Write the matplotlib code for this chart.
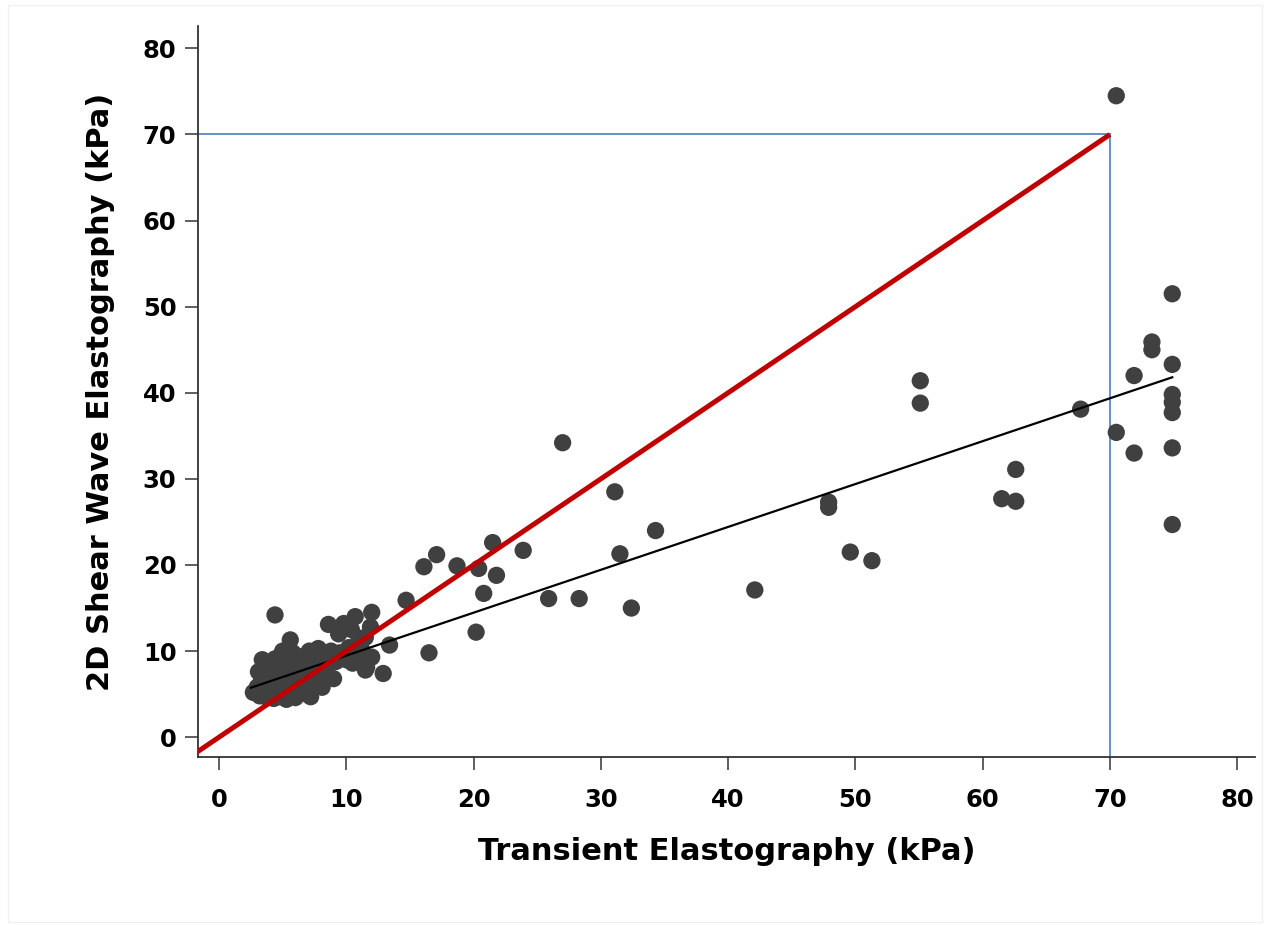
import matplotlib
matplotlib.use("Agg")
import matplotlib.pyplot as plt
from matplotlib.patches import Rectangle

# Transient elastography (x, kPa) vs 2D shear wave elastography (y, kPa)
te_kpa = [
    # dense low cluster
    2.7, 3.0, 3.2, 3.3, 3.5, 3.6, 3.7, 3.8, 3.9, 4.0, 4.1, 4.2, 4.3, 4.4, 4.5,
    4.6, 4.7, 4.8, 4.9, 5.0, 5.1, 5.2, 5.3, 5.4, 5.5, 5.6, 5.7, 5.8, 5.9, 6.0,
    6.2, 6.3, 6.5, 6.6, 6.8, 7.0, 7.1, 7.2, 7.3, 7.5, 7.6, 7.8, 8.0, 8.1, 8.3,
    8.5, 8.6, 8.8, 9.0, 9.2, 9.4, 9.5, 9.8, 10.0, 10.2, 10.4, 10.7, 10.8, 11.0,
    11.2, 11.5, 11.5, 11.6, 11.9, 12.0, 12.0, 12.9, 13.4, 4.4, 3.4, 4.0, 5.0,
    6.0, 6.9, 3.1, 9.9, 10.5, 3.6, 4.3, 5.3,
    # scattered mid range
    14.7, 16.5, 16.1, 17.1, 18.7, 20.4, 20.2, 20.8, 21.5, 21.8, 23.9, 25.9,
    27.0, 28.3, 31.1, 31.5, 32.4, 34.3, 42.1, 47.9, 47.9, 49.6, 51.3, 55.1,
    55.1, 61.5, 62.6, 62.6, 67.7,
    # upper range
    70.5, 70.5, 71.9, 71.9, 73.3, 73.3, 74.9, 74.9, 74.9, 74.9, 74.9, 74.9,
    74.9,
]
swe_kpa = [
    5.2, 5.8, 4.8, 6.4, 7.0, 5.5, 8.0, 4.6, 6.2, 7.5, 8.5, 5.0, 6.8, 9.1, 5.8,
    7.9, 4.7, 6.4, 8.8, 5.3, 7.2, 9.5, 6.0, 4.9, 8.2, 11.3, 6.8, 9.8, 5.5, 7.6,
    8.8, 6.2, 5.1, 9.4, 7.2, 8.3, 10.0, 4.7, 6.0, 9.0, 7.0, 10.3, 8.0, 5.8, 9.5,
    7.3, 13.1, 10.0, 6.8, 8.8, 12.0, 9.8, 13.2, 9.0, 10.4, 12.5, 14.0, 9.5, 11.5,
    10.2, 11.6, 7.8, 8.1, 12.8, 14.5, 9.3, 7.4, 10.7, 14.2, 9.0, 5.6, 10.0,
    4.6, 5.2, 7.6, 12.6, 8.6, 8.6, 4.5, 4.4,
    15.9, 9.8, 19.8, 21.2, 19.9, 19.6, 12.2, 16.7, 22.6, 18.8, 21.7, 16.1,
    34.2, 16.1, 28.5, 21.3, 15.0, 24.0, 17.1, 27.3, 26.7, 21.5, 20.5, 41.4,
    38.8, 27.7, 31.1, 27.4, 38.1,
    74.5, 35.4, 42.0, 33.0, 45.9, 45.0, 51.5, 43.3, 39.8, 38.9, 37.7, 33.6,
    24.7,
]

# linear fit line (intercept, slope) and its x-range
fit_intercept = 4.5
fit_slope = 0.498
fit_x = [2.5, 74.9]

# reference (identity) line and cut-off guides
identity_x = [-2.5, 70.0]
cutoff = 70

x_ticks = [0, 10, 20, 30, 40, 50, 60, 70, 80]
y_ticks = [0, 10, 20, 30, 40, 50, 60, 70, 80]

fig = plt.figure(figsize=(12.64, 9.25), dpi=100)
fig.patches.append(Rectangle((8 / 1264, 3 / 925), 1254 / 1264, 917 / 925,
                             transform=fig.transFigure, fill=False,
                             edgecolor="#eef2f2", linewidth=1.0))
ax = fig.add_axes([198 / 1264, 168 / 925, 1057 / 1264, 731 / 925])

ax.set_xlim(-1.65, 81.4)
ax.set_ylim(-2.3, 82.6)

ax.scatter(te_kpa, swe_kpa, s=155, color="#404040", edgecolors="none", zorder=2)

fx = fit_x
fy = [fit_intercept + fit_slope * v for v in fx]
ax.plot(fx, fy, color="black", lw=1.6, zorder=3)

ax.plot(identity_x, identity_x, color="#c00000", lw=3.6, zorder=4,
        solid_capstyle="butt")

ax.plot([-1.65, cutoff], [cutoff, cutoff], color="#4a7ebb", lw=1.2, zorder=1)
ax.plot([cutoff, cutoff], [cutoff, -2.3], color="#4a7ebb", lw=1.2, zorder=1)

for s in ["top", "right"]:
    ax.spines[s].set_visible(False)
for s in ["left", "bottom"]:
    ax.spines[s].set_color("#333333")
    ax.spines[s].set_linewidth(1.3)

ax.set_xticks(x_ticks)
ax.set_yticks(y_ticks)
ax.tick_params(axis="both", direction="out", length=9.5, width=1.1,
               color="#333333", labelsize=17.5)
ax.tick_params(axis="x", pad=13)
ax.tick_params(axis="y", pad=6)
for lab in ax.get_xticklabels() + ax.get_yticklabels():
    lab.set_fontweight("bold")
    lab.set_family("DejaVu Sans")

ax.set_xlabel("Transient Elastography (kPa)", fontsize=22, fontweight="bold",
              labelpad=18)
ax.set_ylabel("2D Shear Wave Elastography (kPa)", fontsize=22,
              fontweight="bold", labelpad=20)

fig.savefig("out.png", dpi=100)
